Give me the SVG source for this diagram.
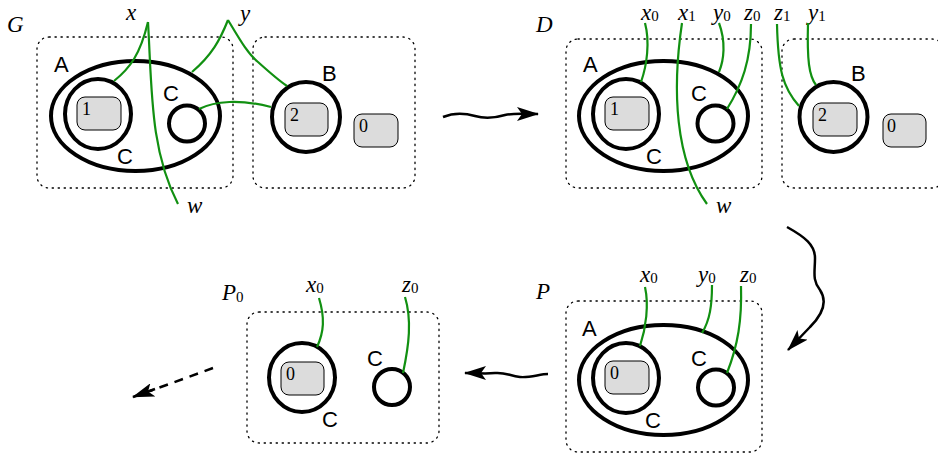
<svg xmlns="http://www.w3.org/2000/svg" width="938" height="455" viewBox="0 0 938 455">
<style>
.box{fill:none;stroke:#000;stroke-width:1.3;stroke-dasharray:1.3 4.7;stroke-linecap:round}
.thick{fill:none;stroke:#000;stroke-width:4}
.site{fill:#dcdcdc;stroke:#000;stroke-width:1}
.link{fill:none;stroke:#119011;stroke-width:2.2}
.v{font-family:"Liberation Serif",serif;font-style:italic;font-size:23px;fill:#000}
.s{font-family:"Liberation Serif",serif;font-style:normal;font-size:15px}
.n{font-family:"Liberation Serif",serif;font-size:18px;fill:#000}
.c{font-family:"Liberation Sans",Arial,sans-serif;font-size:22px;fill:#000}
.arr{fill:none;stroke:#000;stroke-width:2.5}
</style>
<defs>
<marker id="ah" markerUnits="userSpaceOnUse" viewBox="0 0 22 14" refX="21" refY="7" markerWidth="22" markerHeight="14" orient="auto">
<path d="M0,0 L22,7 L0,14 L5,7 z" fill="#000"/>
</marker>
</defs>

<!-- Panel G -->
<g id="G">
<text class="v" x="7" y="32">G</text>
<g id="G-box1"><rect class="box" x="37" y="37" width="196" height="151" rx="12"/></g>
<g id="G-box2"><rect class="box" x="253" y="37" width="162" height="151" rx="12"/></g>
<g id="G-A"><ellipse class="thick" cx="135.5" cy="116" rx="84.5" ry="55"/><text class="c" x="54" y="72">A</text></g>
<g id="G-C1"><ellipse class="thick" cx="98" cy="114" rx="33" ry="35"/><text class="c" x="117" y="164">C</text></g>
<g id="G-s1"><rect class="site" x="77" y="97" width="44" height="33" rx="8"/><text class="n" x="82" y="115">1</text></g>
<g id="G-C2"><circle class="thick" cx="187" cy="123.5" r="18"/><text class="c" x="163" y="101">C</text></g>
<g id="G-B"><ellipse class="thick" cx="306" cy="117" rx="34" ry="35"/><text class="c" x="322" y="81">B</text></g>
<g id="G-s2"><rect class="site" x="285" y="103" width="43" height="33" rx="8"/><text class="n" x="290" y="121">2</text></g>
<g id="G-s0"><rect class="site" x="354" y="114" width="44" height="33" rx="8"/><text class="n" x="359" y="132">0</text></g>
<text class="v" x="126" y="20">x</text>
<text class="v" x="240" y="21">y</text>
<text class="v" x="187" y="213">w</text>
</g>

<!-- Panel D -->
<g id="D">
<text class="v" x="536" y="32">D</text>
<g id="D-box1"><rect class="box" x="566" y="39" width="196" height="149" rx="12"/></g>
<g id="D-box2"><rect class="box" x="782" y="39" width="162" height="149" rx="12"/></g>
<g id="D-A"><ellipse class="thick" cx="663.5" cy="116" rx="84.5" ry="55"/><text class="c" x="583" y="72">A</text></g>
<g id="D-C1"><ellipse class="thick" cx="626" cy="114" rx="33" ry="35"/><text class="c" x="646" y="164">C</text></g>
<g id="D-s1"><rect class="site" x="605" y="97" width="44" height="33" rx="8"/><text class="n" x="610" y="115">1</text></g>
<g id="D-C2"><circle class="thick" cx="715.5" cy="123.5" r="18"/><text class="c" x="691" y="101">C</text></g>
<g id="D-B"><ellipse class="thick" cx="833.5" cy="117" rx="34" ry="35"/><text class="c" x="851" y="81">B</text></g>
<g id="D-s2"><rect class="site" x="813" y="103" width="44" height="33" rx="8"/><text class="n" x="818" y="121">2</text></g>
<g id="D-s0"><rect class="site" x="883" y="114" width="43" height="33" rx="8"/><text class="n" x="887" y="132">0</text></g>
<text class="v" x="641" y="20">x<tspan class="s" dy="1">0</tspan></text>
<text class="v" x="678" y="20">x<tspan class="s" dy="1">1</tspan></text>
<text class="v" x="713" y="20">y<tspan class="s" dy="1">0</tspan></text>
<text class="v" x="744" y="20">z<tspan class="s" dy="1">0</tspan></text>
<text class="v" x="774" y="20">z<tspan class="s" dy="1">1</tspan></text>
<text class="v" x="808" y="20">y<tspan class="s" dy="1">1</tspan></text>
<text class="v" x="716" y="213">w</text>
</g>

<!-- Panel P -->
<g id="P">
<text class="v" x="536" y="299">P</text>
<g id="P-box"><rect class="box" x="566" y="301" width="196" height="151" rx="12"/></g>
<g id="P-A"><ellipse class="thick" cx="663.5" cy="380" rx="84.5" ry="55"/><text class="c" x="582" y="336">A</text></g>
<g id="P-C1"><ellipse class="thick" cx="626" cy="378" rx="33" ry="35"/><text class="c" x="645" y="428">C</text></g>
<g id="P-s0"><rect class="site" x="605" y="361" width="44" height="33" rx="8"/><text class="n" x="610" y="379">0</text></g>
<g id="P-C2"><circle class="thick" cx="716" cy="387.5" r="18"/><text class="c" x="691" y="366">C</text></g>
<text class="v" x="640" y="282">x<tspan class="s" dy="1">0</tspan></text>
<text class="v" x="698" y="282">y<tspan class="s" dy="1">0</tspan></text>
<text class="v" x="740" y="282">z<tspan class="s" dy="1">0</tspan></text>
</g>

<!-- Panel P0 -->
<g id="P0">
<text class="v" x="222" y="300">P<tspan class="s" dy="2">0</tspan></text>
<g id="P0-box"><rect class="box" x="247" y="312" width="192" height="131" rx="12"/></g>
<g id="P0-C1"><ellipse class="thick" cx="302" cy="377.5" rx="33" ry="34.5"/><text class="c" x="322" y="427">C</text></g>
<g id="P0-s0"><rect class="site" x="281" y="362" width="43" height="33" rx="8"/><text class="n" x="286" y="380">0</text></g>
<g id="P0-C2"><circle class="thick" cx="392" cy="387" r="18"/><text class="c" x="367" y="366">C</text></g>
<text class="v" x="306" y="292">x<tspan class="s" dy="1">0</tspan></text>
<text class="v" x="402" y="292">z<tspan class="s" dy="1">0</tspan></text>
</g>

<!-- Connectors -->
<g id="connectors">
<path class="link" d="M148,22 C140,55 130,68 114,81"/>
<path class="link" d="M148,22 C152,90 150,150 178,204"/>
<path class="link" d="M228,20 C220,40 212,55 192,72"/>
<path class="link" d="M228,20 C240,40 248,54 258,62 C268,71 278,80 287,86"/>
<path class="link" d="M199,109 C215,101 240,99 271,107"/>

<path class="link" d="M645,23 C650,42 647,65 641,82"/>
<path class="link" d="M682,23 C672,90 675,160 707,204"/>
<path class="link" d="M719,23 C726,42 724,60 719,72"/>
<path class="link" d="M751,24 C751,60 742,85 727,109"/>
<path class="link" d="M777,24 C778,70 783,88 799,106"/>
<path class="link" d="M808,23 C807,60 809,76 816,85"/>

<path class="link" d="M645,287 C649,305 646,328 640,346"/>
<path class="link" d="M712,285 C712,305 710,320 702,333"/>
<path class="link" d="M741,286 C742,320 738,345 727,373"/>

<path class="link" d="M319,298 C325,318 324,332 317,347"/>
<path class="link" d="M405,297 C412,320 409,345 403,373"/>

<path class="arr" marker-end="url(#ah)" d="M443,117 C455,112 465,113 475,116 C485,119 495,118 505,115 C514,113 522,114 538,114"/>
<path class="arr" marker-end="url(#ah)" d="M787,227 C805,237 815,245 815,258 C815,272 812,280 820,290 C828,302 822,315 810,327 L788,350"/>
<path class="arr" marker-end="url(#ah)" d="M548,374 C540,374 530,378 520,377 C510,376 505,372 495,373 C485,374 478,373 465,373"/>
<path class="arr" stroke-dasharray="9 7" d="M213,368 L150,391"/>
<path class="arr" marker-end="url(#ah)" d="M155,389 L133,397"/>
</g>
</svg>
